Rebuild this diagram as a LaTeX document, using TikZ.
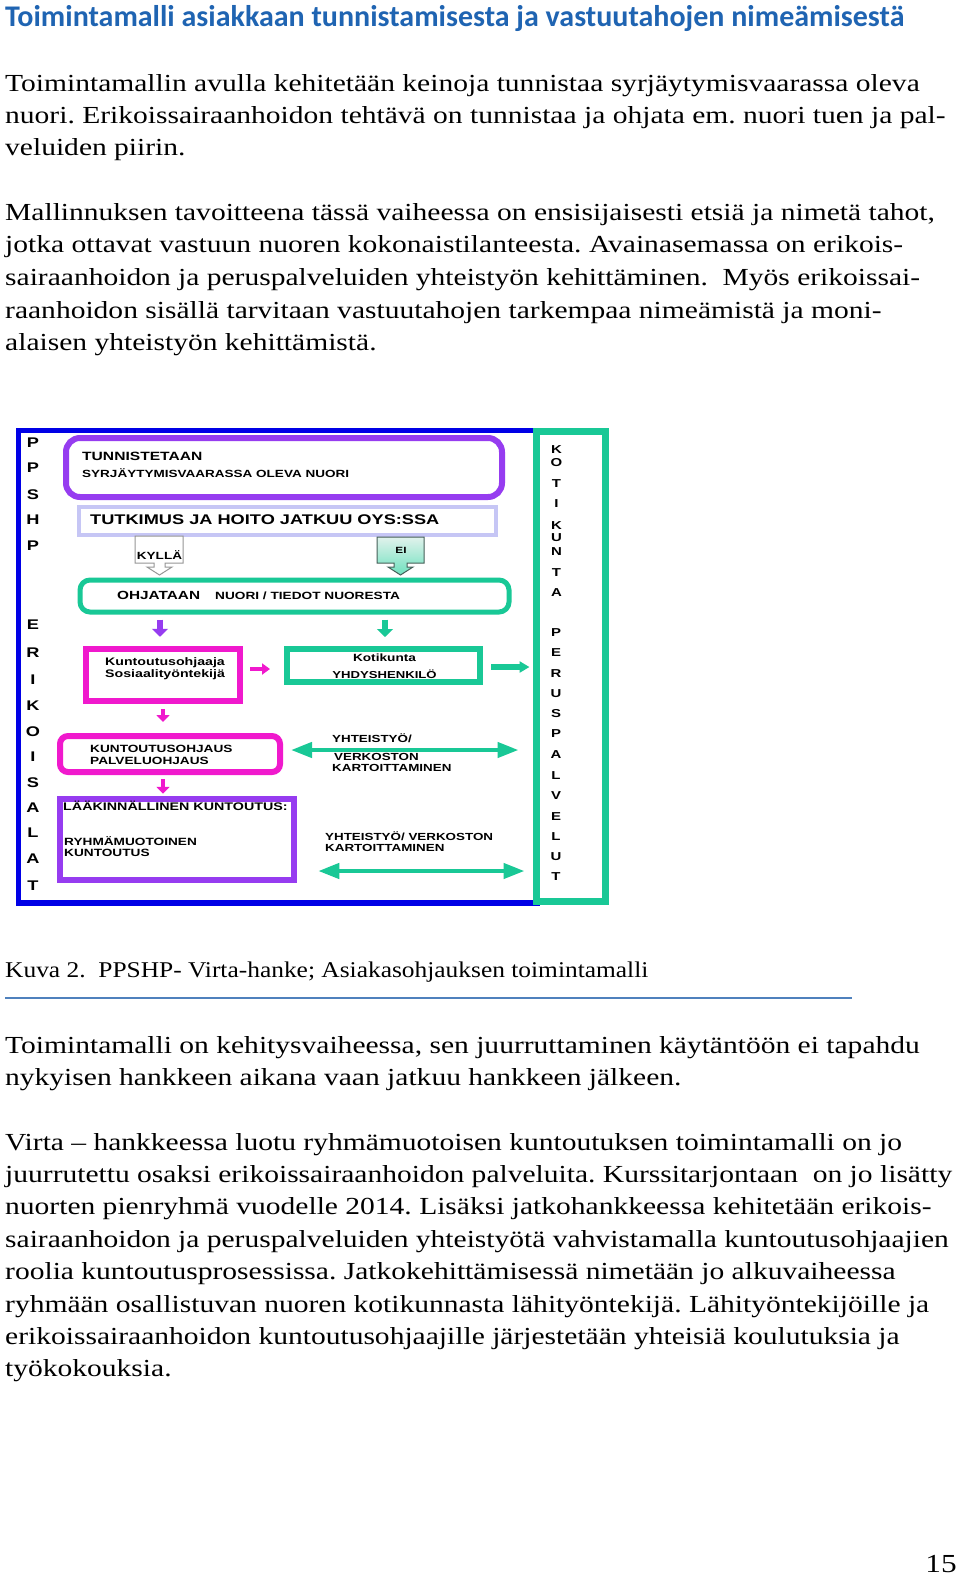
\documentclass[tikz,border=0pt]{standalone}
\usepackage{fontspec}
\usetikzlibrary{arrows.meta}
\setmainfont{Liberation Serif}
\newfontfamily\bodyf[FakeStretch=1.205]{Liberation Serif}
\newfontfamily\capf[FakeStretch=1.13]{Liberation Serif}
\newfontfamily\titlef{Carlito}
\newfontfamily\dgf[FakeStretch=1.3]{Liberation Sans}
\newcommand\fsz[1]{\fontsize{#1}{#1}\selectfont}
\definecolor{titleblue}{RGB}{31,100,178}
\definecolor{capline}{RGB}{79,129,189}
\definecolor{frameblue}{RGB}{0,0,230}
\definecolor{gr}{RGB}{25,200,150}
\definecolor{pu}{RGB}{150,60,240}
\definecolor{ma}{RGB}{240,25,205}
\definecolor{lav}{RGB}{198,198,245}
\definecolor{callgray}{RGB}{150,150,150}
\definecolor{eiborder}{RGB}{70,95,88}
\definecolor{eitop}{RGB}{225,242,236}
\definecolor{eibot}{RGB}{110,225,190}
\frenchspacing
\begin{document}
\begin{tikzpicture}[x=1pt,y=-1pt,
  body/.style={anchor=base west, inner sep=0pt, font=\bodyf\fsz{24.5}},
  dl/.style={anchor=base west, inner sep=0pt, font=\dgf\bfseries\fsz{10.5}},
  dlc/.style={anchor=base, inner sep=0pt, font=\dgf\bfseries\fsz{10.5}},
  colL/.style={inner sep=0pt, font=\dgf\bfseries\fsz{14}},
  colR/.style={inner sep=0pt, font=\dgf\bfseries\fsz{11.5}},
  garr/.style={draw=gr, line cap=butt},
  parr/.style={draw=pu},
  marr/.style={draw=ma},
  dbl/.style={draw=gr, line width=4.3pt, {Triangle[length=21pt,width=15pt]}-{Triangle[length=21pt,width=15pt]}}
]
\useasboundingbox (0,0) rectangle (960,1575);
\fill[white] (0,0) rectangle (960,1575);

% ---- Title and text ----
\node[anchor=base west, inner sep=0pt, font=\titlef\bfseries\fsz{30}, text=titleblue] (title) at (5,26)
  {Toimintamalli asiakkaan tunnistamisesta ja vastuutahojen nimeämisestä};

\node[body] (p1a) at (5,91) {Toimintamallin avulla kehitetään keinoja tunnistaa syrjäytymisvaarassa oleva};
\node[body] (p1b) at (5,123.4) {nuori. Erikoissairaanhoidon tehtävä on tunnistaa ja ohjata em. nuori tuen ja pal-};
\node[body] (p1c) at (5,155.8) {veluiden piirin.};

\node[body] (p2a) at (5,220) {Mallinnuksen tavoitteena tässä vaiheessa on ensisijaisesti etsiä ja nimetä tahot,};
\node[body] (p2b) at (5,252.7) {jotka ottavat vastuun nuoren kokonaistilanteesta. Avainasemassa on erikois-};
\node[body] (p2c) at (5,285.4) {sairaanhoidon ja peruspalveluiden yhteistyön kehittäminen.\ \ Myös erikoissai-};
\node[body] (p2d) at (5,318.1) {raanhoidon sisällä tarvitaan vastuutahojen tarkempaa nimeämistä ja moni-};
\node[body] (p2e) at (5,350.8) {alaisen yhteistyön kehittämistä.};

% ---- Diagram ----
\node[draw=frameblue, line width=5.5pt, inner sep=0pt, minimum width=518.5pt, minimum height=472.5pt] (frame) at (277.75,666.75) {};
\node[draw=gr, line width=7pt, inner sep=0pt, minimum width=68.5pt, minimum height=469.5pt] (col) at (570.75,666.25) {};

\node[draw=pu, line width=6pt, rounded corners=14pt, inner sep=0pt, minimum width=436pt, minimum height=59pt] (tun) at (284,467.5) {};
\node[draw=lav, line width=4pt, inner sep=0pt, minimum width=417pt, minimum height=28pt] (tut) at (287.5,521) {};
\node[draw=gr, line width=5pt, rounded corners=10pt, inner sep=0pt, minimum width=429pt, minimum height=32pt] (ohj) at (294.5,596) {};
\node[draw=ma, line width=6.5pt, inner sep=0pt, minimum width=154pt, minimum height=52pt] (kso) at (163,675) {};
\node[draw=gr, line width=6pt, inner sep=0pt, minimum width=193pt, minimum height=33pt] (kot) at (383.5,665.5) {};
\node[draw=ma, line width=6pt, rounded corners=8pt, inner sep=0pt, minimum width=220pt, minimum height=36pt] (kos) at (170,754) {};
\node[draw=pu, line width=6.5pt, inner sep=0pt, minimum width=234pt, minimum height=81pt] (lak) at (177,839.5) {};

% callouts
\draw[callgray, line width=1pt, fill=white] (135,536) -- (183,536) -- (183,563) -- (165,563) -- (165,567) -- (172,567)
  -- (159.5,575) -- (147,567) -- (154,567) -- (154,563) -- (135,563) -- cycle;
\draw[eiborder, line width=1pt, top color=eitop, bottom color=eibot] (377,537) -- (424,537) -- (424,563) -- (407,563) -- (407,567) -- (413,567)
  -- (400.5,575) -- (388,567) -- (394,567) -- (394,563) -- (377,563) -- cycle;

% letters left
\foreach \l/\yy [count=\i] in {P/443,P/468,S/495,H/520,P/546}
  \node[colL] (lp\i) at (33,\yy) {\l};
\foreach \l/\yy [count=\i] in {E/625,R/653,I/680,K/706,O/732,I/757,S/783,A/808,L/833,A/859,T/886}
  \node[colL] (le\i) at (33,\yy) {\l};
% letters right
\foreach \l/\yy [count=\i] in {K/450,O/463,T/484,I/504,K/526,U/538,N/552,T/573,A/593}
  \node[colR] (rk\i) at (556.5,\yy) {\l};
\foreach \l/\yy [count=\i] in {P/633,E/653,R/674,U/694,S/714,P/734,A/755,L/776,V/796,E/817,L/837,U/857,T/877}
  \node[colR] (rp\i) at (556,\yy) {\l};

% box texts
\node[dl, font=\dgf\bfseries\fsz{12}] (t1) at (82,460) {TUNNISTETAAN};
\node[dl, font=\dgf\bfseries\fsz{10.4}] (t2) at (82,477) {SYRJÄYTYMISVAARASSA OLEVA NUORI};
\node[dl, font=\dgf\bfseries\fsz{14}] (t3) at (90,524) {TUTKIMUS JA HOITO JATKUU OYS:SSA};
\node[dlc, font=\dgf\bfseries\fsz{10.4}] (t4) at (159.5,559.5) {KYLLÄ};
\node[dlc, font=\dgf\bfseries\fsz{9}] (t5) at (401,553) {EI};
\node[dl, font=\dgf\bfseries\fsz{11.8}] (t6) at (117,599) {OHJATAAN};
\node[dl, font=\dgf\bfseries\fsz{10.5}] (t7) at (215,599) {NUORI / TIEDOT NUORESTA};
\node[dl, font=\dgf\bfseries\fsz{10.9}] (t8) at (105,665) {Kuntoutusohjaaja};
\node[dl, font=\dgf\bfseries\fsz{10.9}] (t9) at (105,677) {Sosiaalityöntekijä};
\node[dlc] (t10) at (384.5,661) {Kotikunta};
\node[dlc, font=\dgf\bfseries\fsz{10.1}] (t11) at (384.5,678.3) {YHDYSHENKILÖ};
\node[dl] (t12) at (90,752.7) {KUNTOUTUSOHJAUS};
\node[dl] (t13) at (90,764.3) {PALVELUOHJAUS};
\node[dl, font=\dgf\bfseries\fsz{11}] (t14) at (63,810) {LÄÄKINNÄLLINEN KUNTOUTUS:};
\node[dl] (t15) at (64,845) {RYHMÄMUOTOINEN};
\node[dl] (t16) at (64,856.7) {KUNTOUTUS};
\node[dl, font=\dgf\bfseries\fsz{10.3}] (t17) at (332,742.7) {YHTEISTYÖ/};
\node[dl, font=\dgf\bfseries\fsz{10.3}] (t18) at (334,760) {VERKOSTON};
\node[dl, font=\dgf\bfseries\fsz{10.3}] (t19) at (332,771.7) {KARTOITTAMINEN};
\node[dl, font=\dgf\bfseries\fsz{10.3}] (t20) at (325,840) {YHTEISTYÖ/ VERKOSTON};
\node[dl, font=\dgf\bfseries\fsz{10.3}] (t21) at (325,851.7) {KARTOITTAMINEN};

% arrows
\draw[parr, line width=6pt, -{Triangle[length=8pt,width=16pt]}, shorten <=5pt, shorten >=9pt]
  ([xshift=-3pt]ohj.south -| kso.north) -- ([xshift=-3pt]kso.north);
\draw[garr, line width=6.5pt, -{Triangle[length=8pt,width=16pt]}, shorten <=5pt, shorten >=9pt]
  ([xshift=1.5pt]ohj.south -| kot.north) -- ([xshift=1.5pt]kot.north);
\draw[marr, line width=4pt, -{Triangle[length=8pt,width=11pt]}, shorten <=7pt, shorten >=14pt]
  ([yshift=-3.5pt]kot.west -| kso.east) -- ([yshift=-3.5pt]kot.west);
\draw[garr, line width=5.5pt, -{Triangle[length=10pt,width=11pt]}, shorten <=8pt, shorten >=3.5pt]
  ([yshift=-1.5pt]kot.east) -- ([yshift=-1.5pt]kot.east -| col.west);
\draw[marr, line width=4.3pt, -{Triangle[length=7pt,width=13pt]}, shorten <=5pt, shorten >=11pt]
  (kso.south) -- (kso.south |- kos.north);
\draw[marr, line width=4.3pt, -{Triangle[length=7pt,width=13pt]}, shorten <=4pt, shorten >=2pt]
  ([xshift=-7pt]kos.south) -- ([xshift=-7pt]kos.south |- lak.north);
\draw[dbl, shorten <=8pt, shorten >=14.5pt]
  ([yshift=4pt]kos.east) -- ([yshift=4pt]kos.east -| col.west);
\coordinate (yb) at (0,871);
\draw[dbl, shorten <=21pt, shorten >=8.5pt] (lak.east |- yb) -- (col.west |- yb);

% ---- caption ----
\node[anchor=base west, inner sep=0pt, font=\capf\fsz{22.5}] (cap) at (5,977)
  {Kuva 2.\ \ PPSHP- Virta-hanke; Asiakasohjauksen toimintamalli};
\draw[capline, line width=1.5pt] (5,998) -- (852,998);

% ---- text after ----
\node[body] (p3a) at (5,1053) {Toimintamalli on kehitysvaiheessa, sen juurruttaminen käytäntöön ei tapahdu};
\node[body] (p3b) at (5,1085.4) {nykyisen hankkeen aikana vaan jatkuu hankkeen jälkeen.};

\node[body] (p4a) at (5,1150) {Virta – hankkeessa luotu ryhmämuotoisen kuntoutuksen toimintamalli on jo};
\node[body] (p4b) at (5,1182.4) {juurrutettu osaksi erikoissairaanhoidon palveluita. Kurssitarjontaan\ \ on jo lisätty};
\node[body] (p4c) at (5,1214.8) {nuorten pienryhmä vuodelle 2014. Lisäksi jatkohankkeessa kehitetään erikois-};
\node[body] (p4d) at (5,1247.2) {sairaanhoidon ja peruspalveluiden yhteistyötä vahvistamalla kuntoutusohjaajien};
\node[body] (p4e) at (5,1279.6) {roolia kuntoutusprosessissa. Jatkokehittämisessä nimetään jo alkuvaiheessa};
\node[body] (p4f) at (5,1312) {ryhmään osallistuvan nuoren kotikunnasta lähityöntekijä. Lähityöntekijöille ja};
\node[body] (p4g) at (5,1344.4) {erikoissairaanhoidon kuntoutusohjaajille järjestetään yhteisiä koulutuksia ja};
\node[body] (p4h) at (5,1376.8) {työkokouksia.};

\node[anchor=base east, inner sep=0pt, font=\bodyf\fsz{26}] (pg) at (957,1572) {15};
\end{tikzpicture}
\end{document}
